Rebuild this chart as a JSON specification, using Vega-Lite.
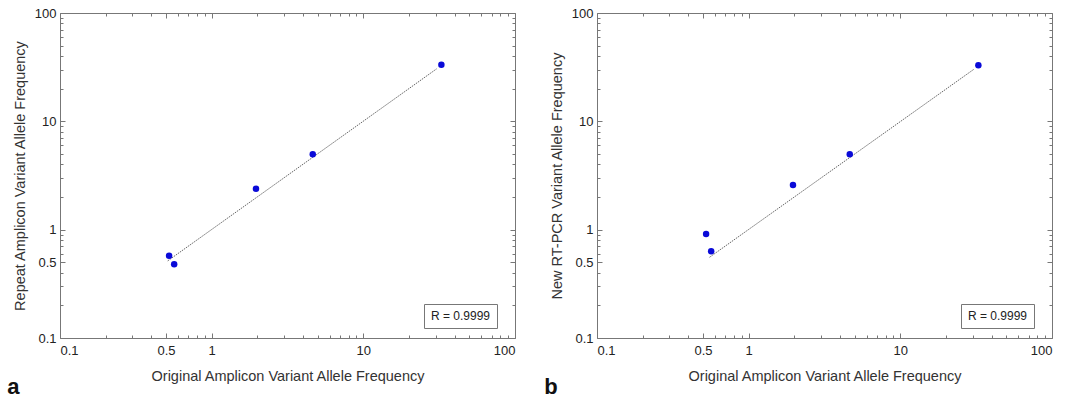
{
  "$schema": "https://vega.github.io/schema/vega-lite/v6.json",
  "background": "white",
  "padding": {"left": 7, "top": 7, "right": 5, "bottom": 0},
  "config": {
    "font": "Liberation Sans",
    "view": {"stroke": null},
    "axis": {
      "labelFont": "Liberation Sans",
      "labelFontSize": 13,
      "labelColor": "#222",
      "titleFont": "Liberation Sans",
      "titleFontSize": 14.5,
      "titleFontWeight": "normal",
      "titleColor": "#333",
      "domainColor": "#777",
      "tickColor": "#777",
      "grid": false
    },
    "legend": {
      "labelFont": "Liberation Sans"
    }
  },
  "datasets": {
    "pointsA": [
      {"original": 0.524, "repeat": 0.575},
      {"original": 0.566, "repeat": 0.479},
      {"original": 1.96, "repeat": 2.39},
      {"original": 4.64, "repeat": 4.96},
      {"original": 32.7, "repeat": 33.3}
    ],
    "fitA": [
      {"x": 0.513, "y": 0.515},
      {"x": 30.5, "y": 30.6}
    ],
    "pointsB": [
      {"original": 0.524, "rtpcr": 0.912},
      {"original": 0.566, "rtpcr": 0.631},
      {"original": 1.96, "rtpcr": 2.58},
      {"original": 4.64, "rtpcr": 4.96},
      {"original": 32.7, "rtpcr": 32.9}
    ],
    "fitB": [
      {"x": 0.552, "y": 0.556},
      {"x": 30.4, "y": 30.1}
    ]
  },
  "spacing": 28,
  "hconcat": [
    {
      "width": 455,
      "height": 325,
      "title": {"text": "a", "orient": "bottom", "anchor": "start", "frame": "bounds", "fontSize": 22, "fontWeight": "bold", "color": "#111", "offset": -6, "dx": -5},
      "layer": [
        {
          "data": {"name": "fitA"},
          "mark": {"type": "line", "strokeDash": [1.5, 1], "strokeWidth": 1},
          "encoding": {
            "x": {"field": "x", "type": "quantitative", "scale": {"type": "log", "domain": [0.1, 100], "nice": false},
              "axis": {"orient": "bottom", "title": "Original Amplicon Variant Allele Frequency", "titlePadding": 12, "labelPadding": 11,
                "values": [0.1,0.2,0.3,0.4,0.5,0.6,0.7,0.8,0.9,1,2,3,4,5,6,7,8,9,10,20,30,40,50,60,70,80,90,100],
                "labelExpr": "indexof([0.1,0.5,1,10,100], datum.value) >= 0 ? format(datum.value, '~g') : ''",
                "tickSize": {"condition": {"test": "indexof([0.1,0.5,1,10,100], datum.value) >= 0", "value": -5}, "value": -3}}},
            "y": {"field": "y", "type": "quantitative", "scale": {"type": "log", "domain": [0.1, 100], "nice": false},
              "axis": {"orient": "left", "title": "Repeat Amplicon Variant Allele Frequency", "titlePadding": 7, "labelPadding": 9,
                "values": [0.1,0.2,0.3,0.4,0.5,0.6,0.7,0.8,0.9,1,2,3,4,5,6,7,8,9,10,20,30,40,50,60,70,80,90,100],
                "labelExpr": "indexof([0.1,0.5,1,10,100], datum.value) >= 0 ? format(datum.value, '~g') : ''",
                "tickSize": {"condition": {"test": "indexof([0.1,0.5,1,10,100], datum.value) >= 0", "value": -5}, "value": -3}}},
            "color": {"datum": "R = 0.9999", "scale": {"range": ["#666"]},
              "legend": {"orient": "none", "legendX": 364, "legendY": 291, "title": null, "symbolType": "stroke", "symbolSize": 0.1, "symbolStrokeWidth": 0, "symbolOpacity": 0, "labelOffset": -11, "labelFontSize": 12, "labelColor": "#222", "strokeColor": "#777", "fillColor": "white", "padding": 6}}
          }
        },
        {
          "data": {"name": "pointsA"},
          "mark": {"type": "circle", "size": 42, "color": "#0a0ad8", "opacity": 1},
          "encoding": {
            "x": {"field": "original", "type": "quantitative", "scale": {"type": "log", "domain": [0.1, 100], "nice": false},
              "axis": {"orient": "top", "title": null, "labels": false,
                "values": [0.1,0.2,0.3,0.4,0.5,0.6,0.7,0.8,0.9,1,2,3,4,5,6,7,8,9,10,20,30,40,50,60,70,80,90,100],
                "tickSize": {"condition": {"test": "indexof([0.1,0.5,1,10,100], datum.value) >= 0", "value": -5}, "value": -3}}},
            "y": {"field": "repeat", "type": "quantitative", "scale": {"type": "log", "domain": [0.1, 100], "nice": false},
              "axis": {"orient": "right", "title": null, "labels": false,
                "values": [0.1,0.2,0.3,0.4,0.5,0.6,0.7,0.8,0.9,1,2,3,4,5,6,7,8,9,10,20,30,40,50,60,70,80,90,100],
                "tickSize": {"condition": {"test": "indexof([0.1,0.5,1,10,100], datum.value) >= 0", "value": -5}, "value": -3}}}
          }
        }
      ],
      "resolve": {"axis": {"x": "independent", "y": "independent"}}
    },
    {
      "width": 455,
      "height": 325,
      "title": {"text": "b", "orient": "bottom", "anchor": "start", "frame": "bounds", "fontSize": 22, "fontWeight": "bold", "color": "#111", "offset": -6, "dx": -5},
      "layer": [
        {
          "data": {"name": "fitB"},
          "mark": {"type": "line", "strokeDash": [1.5, 1], "strokeWidth": 1},
          "encoding": {
            "x": {"field": "x", "type": "quantitative", "scale": {"type": "log", "domain": [0.1, 100], "nice": false},
              "axis": {"orient": "bottom", "title": "Original Amplicon Variant Allele Frequency", "titlePadding": 12, "labelPadding": 11,
                "values": [0.1,0.2,0.3,0.4,0.5,0.6,0.7,0.8,0.9,1,2,3,4,5,6,7,8,9,10,20,30,40,50,60,70,80,90,100],
                "labelExpr": "indexof([0.1,0.5,1,10,100], datum.value) >= 0 ? format(datum.value, '~g') : ''",
                "tickSize": {"condition": {"test": "indexof([0.1,0.5,1,10,100], datum.value) >= 0", "value": -5}, "value": -3}}},
            "y": {"field": "y", "type": "quantitative", "scale": {"type": "log", "domain": [0.1, 100], "nice": false},
              "axis": {"orient": "left", "title": "New RT-PCR Variant Allele Frequency", "titlePadding": 7, "labelPadding": 9,
                "values": [0.1,0.2,0.3,0.4,0.5,0.6,0.7,0.8,0.9,1,2,3,4,5,6,7,8,9,10,20,30,40,50,60,70,80,90,100],
                "labelExpr": "indexof([0.1,0.5,1,10,100], datum.value) >= 0 ? format(datum.value, '~g') : ''",
                "tickSize": {"condition": {"test": "indexof([0.1,0.5,1,10,100], datum.value) >= 0", "value": -5}, "value": -3}}},
            "color": {"datum": "R = 0.9999", "scale": {"range": ["#666"]},
              "legend": {"orient": "none", "legendX": 364, "legendY": 291, "title": null, "symbolType": "stroke", "symbolSize": 0.1, "symbolStrokeWidth": 0, "symbolOpacity": 0, "labelOffset": -11, "labelFontSize": 12, "labelColor": "#222", "strokeColor": "#777", "fillColor": "white", "padding": 6}}
          }
        },
        {
          "data": {"name": "pointsB"},
          "mark": {"type": "circle", "size": 42, "color": "#0a0ad8", "opacity": 1},
          "encoding": {
            "x": {"field": "original", "type": "quantitative", "scale": {"type": "log", "domain": [0.1, 100], "nice": false},
              "axis": {"orient": "top", "title": null, "labels": false,
                "values": [0.1,0.2,0.3,0.4,0.5,0.6,0.7,0.8,0.9,1,2,3,4,5,6,7,8,9,10,20,30,40,50,60,70,80,90,100],
                "tickSize": {"condition": {"test": "indexof([0.1,0.5,1,10,100], datum.value) >= 0", "value": -5}, "value": -3}}},
            "y": {"field": "rtpcr", "type": "quantitative", "scale": {"type": "log", "domain": [0.1, 100], "nice": false},
              "axis": {"orient": "right", "title": null, "labels": false,
                "values": [0.1,0.2,0.3,0.4,0.5,0.6,0.7,0.8,0.9,1,2,3,4,5,6,7,8,9,10,20,30,40,50,60,70,80,90,100],
                "tickSize": {"condition": {"test": "indexof([0.1,0.5,1,10,100], datum.value) >= 0", "value": -5}, "value": -3}}}
          }
        }
      ],
      "resolve": {"axis": {"x": "independent", "y": "independent"}}
    }
  ],
  "resolve": {"scale": {"color": "independent"}, "legend": {"color": "independent"}}
}
